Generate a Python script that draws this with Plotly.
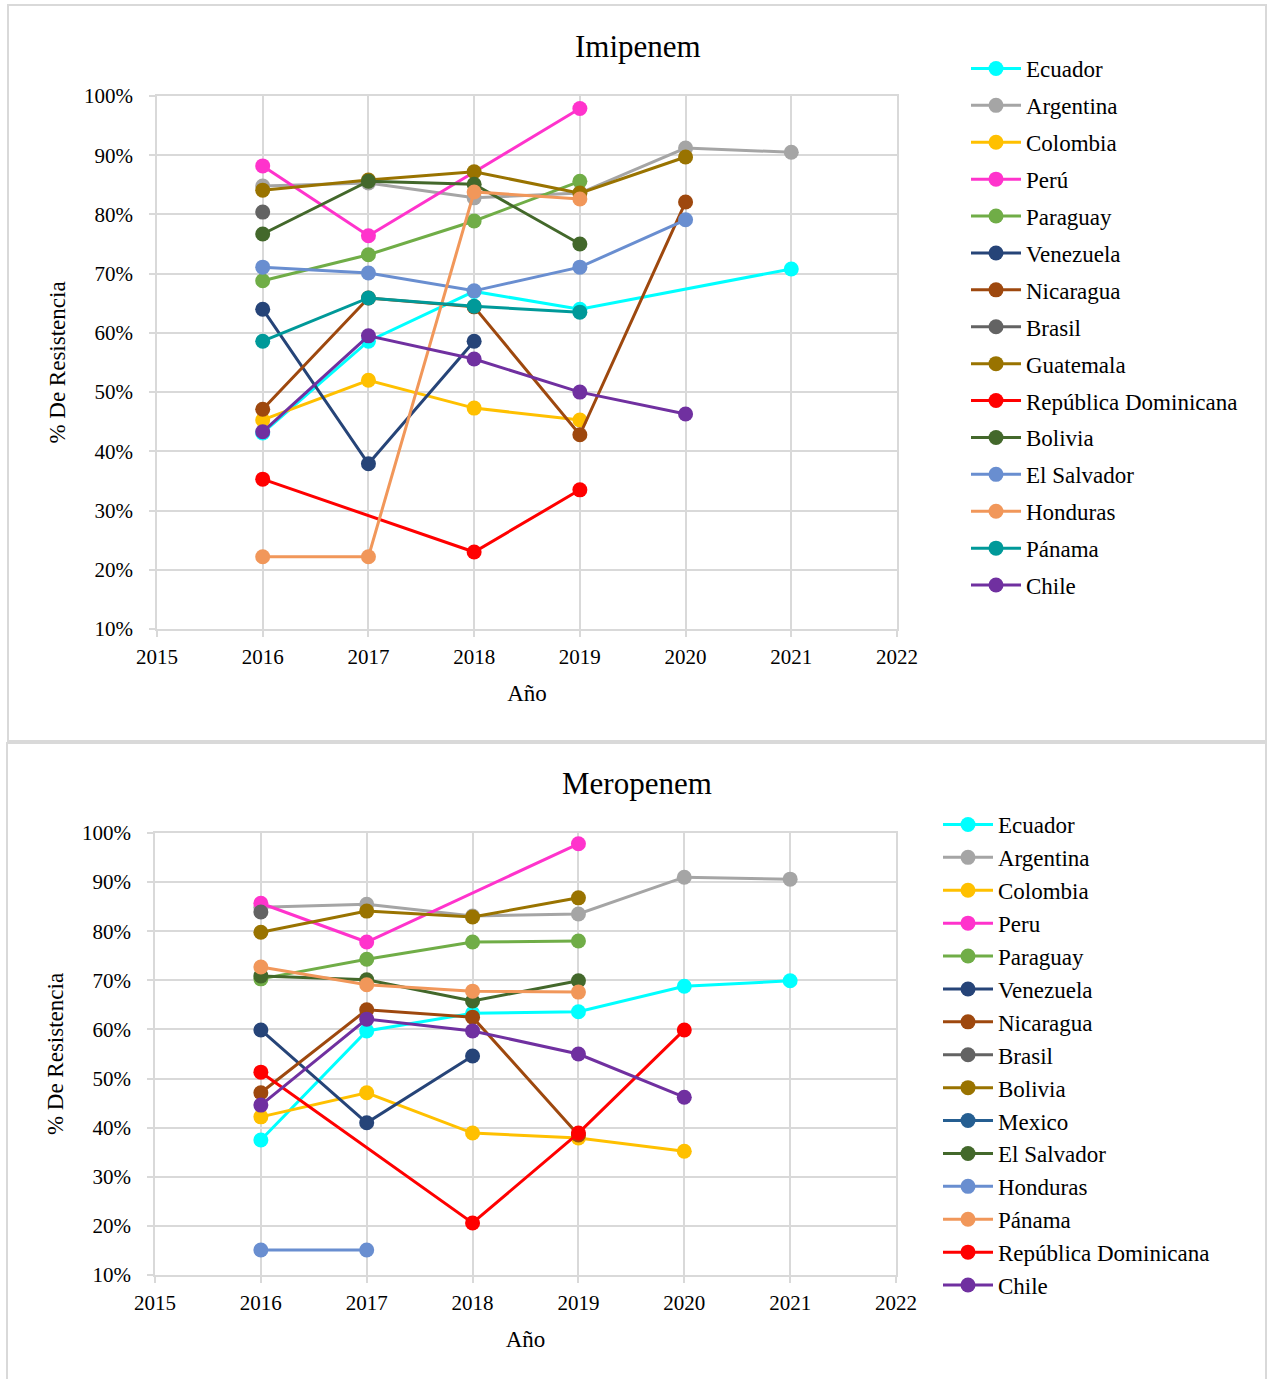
import plotly.graph_objects as go

YEARS = [2016, 2017, 2018, 2019, 2020, 2021]

# Imipenem: % resistance per year (None = no report that year)
imi_ecuador = [43.1, 58.6, 67.0, 64.0, None, 70.8]
imi_argentina = [84.8, 85.3, 82.8, 83.6, 91.2, 90.5]
imi_colombia = [45.3, 52.0, 47.3, 45.3, None, None]
imi_peru = [88.2, 76.4, None, 97.9, None, None]
imi_paraguay = [68.8, 73.2, 78.9, 85.6, None, None]
imi_venezuela = [64.0, 37.9, 58.6, None, None, None]
imi_nicaragua = [47.1, 65.9, 64.4, 42.8, 82.1, None]
imi_brasil = [80.4, None, None, None, None, None]
imi_guatemala = [84.1, 85.8, 87.2, 83.6, 89.7, None]
imi_rep_dom = [35.3, None, 23.0, 33.5, None, None]
imi_bolivia = [76.7, 85.6, 85.1, 75.0, None, None]
imi_el_salvador = [71.1, 70.1, 67.1, 71.1, 79.1, None]
imi_honduras = [22.2, 22.2, 83.8, 82.6, None, None]
imi_panama = [58.6, 65.9, 64.5, 63.5, None, None]
imi_chile = [43.3, 59.5, 55.6, 50.0, 46.3, None]

# Meropenem: % resistance per year
mer_ecuador = [37.5, 59.7, 63.3, 63.6, 68.8, 69.9]
mer_argentina = [84.9, 85.5, 83.1, 83.5, 91.0, 90.6]
mer_colombia = [42.2, 47.1, 38.9, 37.9, 35.2, None]
mer_peru = [85.7, 77.8, None, 97.8, None, None]
mer_paraguay = [70.3, 74.3, 77.8, 78.0, None, None]
mer_venezuela = [59.9, 41.0, 54.6, None, None, None]
mer_nicaragua = [47.1, 64.0, 62.5, 38.5, None, None]
mer_brasil = [83.9, None, None, None, None, None]
mer_bolivia = [79.8, 84.1, 82.9, 86.8, None, None]
mer_mexico = [None, None, None, None, None, None]
mer_el_salvador = [70.9, 70.1, 65.8, 69.9, None, None]
mer_honduras = [15.1, 15.1, None, None, None, None]
mer_panama = [72.7, 69.1, 67.8, 67.6, None, None]
mer_rep_dom = [51.3, None, 20.6, 38.9, 59.9, None]
mer_chile = [44.6, 62.1, 59.7, 55.0, 46.2, None]

imi_names = ["Ecuador", "Argentina", "Colombia", "Perú", "Paraguay", "Venezuela",
             "Nicaragua", "Brasil", "Guatemala", "República Dominicana", "Bolivia",
             "El Salvador", "Honduras", "Pánama", "Chile"]
imi_series = [imi_ecuador, imi_argentina, imi_colombia, imi_peru, imi_paraguay,
              imi_venezuela, imi_nicaragua, imi_brasil, imi_guatemala, imi_rep_dom,
              imi_bolivia, imi_el_salvador, imi_honduras, imi_panama, imi_chile]
imi_colors = ["#00FFFF", "#A5A5A5", "#FFC000", "#FF33CC", "#70AD47", "#264478",
              "#9E480E", "#636363", "#997300", "#FF0000", "#43682B", "#698ED0",
              "#F1975A", "#009999", "#7030A0"]

mer_names = ["Ecuador", "Argentina", "Colombia", "Peru", "Paraguay", "Venezuela",
             "Nicaragua", "Brasil", "Bolivia", "Mexico", "El Salvador", "Honduras",
             "Pánama", "República Dominicana", "Chile"]
mer_series = [mer_ecuador, mer_argentina, mer_colombia, mer_peru, mer_paraguay,
              mer_venezuela, mer_nicaragua, mer_brasil, mer_bolivia, mer_mexico,
              mer_el_salvador, mer_honduras, mer_panama, mer_rep_dom, mer_chile]
mer_colors = ["#00FFFF", "#A5A5A5", "#FFC000", "#FF33CC", "#70AD47", "#264478",
              "#9E480E", "#636363", "#997300", "#255E91", "#43682B", "#698ED0",
              "#F1975A", "#FF0000", "#7030A0"]

W, H = 1268, 1379
FONT = "Liberation Serif"
GRID = "#D9D9D9"


def px_x(p):
    return p / W


def px_y(p):
    return 1 - p / H


fig = go.Figure()

for i, (name, vals, col) in enumerate(zip(imi_names, imi_series, imi_colors)):
    fig.add_trace(go.Scatter(
        x=YEARS, y=vals, name=name, mode="lines+markers", connectgaps=True,
        line=dict(color=col, width=3), marker=dict(color=col, size=15),
        xaxis="x", yaxis="y", legend="legend", legendgroup=f"imi{i}"))

for i, (name, vals, col) in enumerate(zip(mer_names, mer_series, mer_colors)):
    fig.add_trace(go.Scatter(
        x=YEARS, y=vals, name=name, mode="lines+markers", connectgaps=True,
        line=dict(color=col, width=3), marker=dict(color=col, size=15),
        xaxis="x2", yaxis="y2", legend="legend2", legendgroup=f"mer{i}"))

xaxis_common = dict(
    range=[2015, 2022], dtick=1, tick0=2015, showgrid=True, gridcolor=GRID,
    gridwidth=1.5, showline=True, linecolor=GRID, linewidth=1.5, mirror=True,
    ticks="outside", ticklen=6, tickcolor=GRID, tickwidth=1.5,
    tickfont=dict(family=FONT, size=21, color="black"), ticklabelstandoff=2,
    zeroline=False, fixedrange=True, automargin=False,
)
yaxis_common = dict(
    range=[10, 100], dtick=10, tick0=10, ticksuffix="%", showgrid=True,
    gridcolor=GRID, gridwidth=1.5, showline=True, linecolor=GRID, linewidth=1.5,
    mirror=True, ticks="outside", ticklen=6, tickcolor=GRID, tickwidth=1.5,
    tickfont=dict(family=FONT, size=21, color="black"), ticklabelstandoff=12,
    zeroline=False, fixedrange=True, automargin=False,
)
axis_title_font = dict(family=FONT, size=23, color="black")

fig.update_layout(
    width=W, height=H, autosize=False,
    margin=dict(l=0, r=0, t=0, b=0, pad=0, autoexpand=False),
    paper_bgcolor="white", plot_bgcolor="white",
    font=dict(family=FONT, color="black"),
    xaxis=dict(xaxis_common, domain=[px_x(157), px_x(897)], anchor="y",
               title=dict(text="Año", font=axis_title_font, standoff=17)),
    yaxis=dict(yaxis_common, domain=[px_y(629), px_y(96)], anchor="x",
               title=dict(text="% De Resistencia", font=axis_title_font, standoff=12)),
    xaxis2=dict(xaxis_common, domain=[px_x(155), px_x(896)], anchor="y2",
                title=dict(text="Año", font=axis_title_font, standoff=17)),
    yaxis2=dict(yaxis_common, domain=[px_y(1275), px_y(833)], anchor="x2",
                title=dict(text="% De Resistencia", font=axis_title_font, standoff=12)),
    legend=dict(x=px_x(966), y=px_y(47), xanchor="left", yanchor="top",
                font=dict(family=FONT, size=23, color="black"), itemwidth=50,
                tracegroupgap=4, bgcolor="rgba(0,0,0,0)"),
    legend2=dict(x=px_x(938), y=px_y(803), xanchor="left", yanchor="top",
                 font=dict(family=FONT, size=23, color="black"), itemwidth=50,
                 tracegroupgap=0, bgcolor="rgba(0,0,0,0)"),
    annotations=[
        dict(text="Imipenem", x=px_x(638), y=px_y(46), xref="paper", yref="paper",
             showarrow=False, xanchor="center", yanchor="middle",
             font=dict(family=FONT, size=31, color="black")),
        dict(text="Meropenem", x=px_x(637), y=px_y(783), xref="paper", yref="paper",
             showarrow=False, xanchor="center", yanchor="middle",
             font=dict(family=FONT, size=31, color="black")),
    ],
    shapes=[
        dict(type="rect", xref="paper", yref="paper",
             x0=px_x(8), x1=px_x(1266), y0=px_y(741), y1=px_y(5),
             line=dict(color=GRID, width=2), layer="below"),
        dict(type="rect", xref="paper", yref="paper",
             x0=px_x(7), x1=px_x(1266), y0=px_y(1385), y1=px_y(743),
             line=dict(color=GRID, width=2), layer="below"),
    ],
)

fig.write_html("out.html")
